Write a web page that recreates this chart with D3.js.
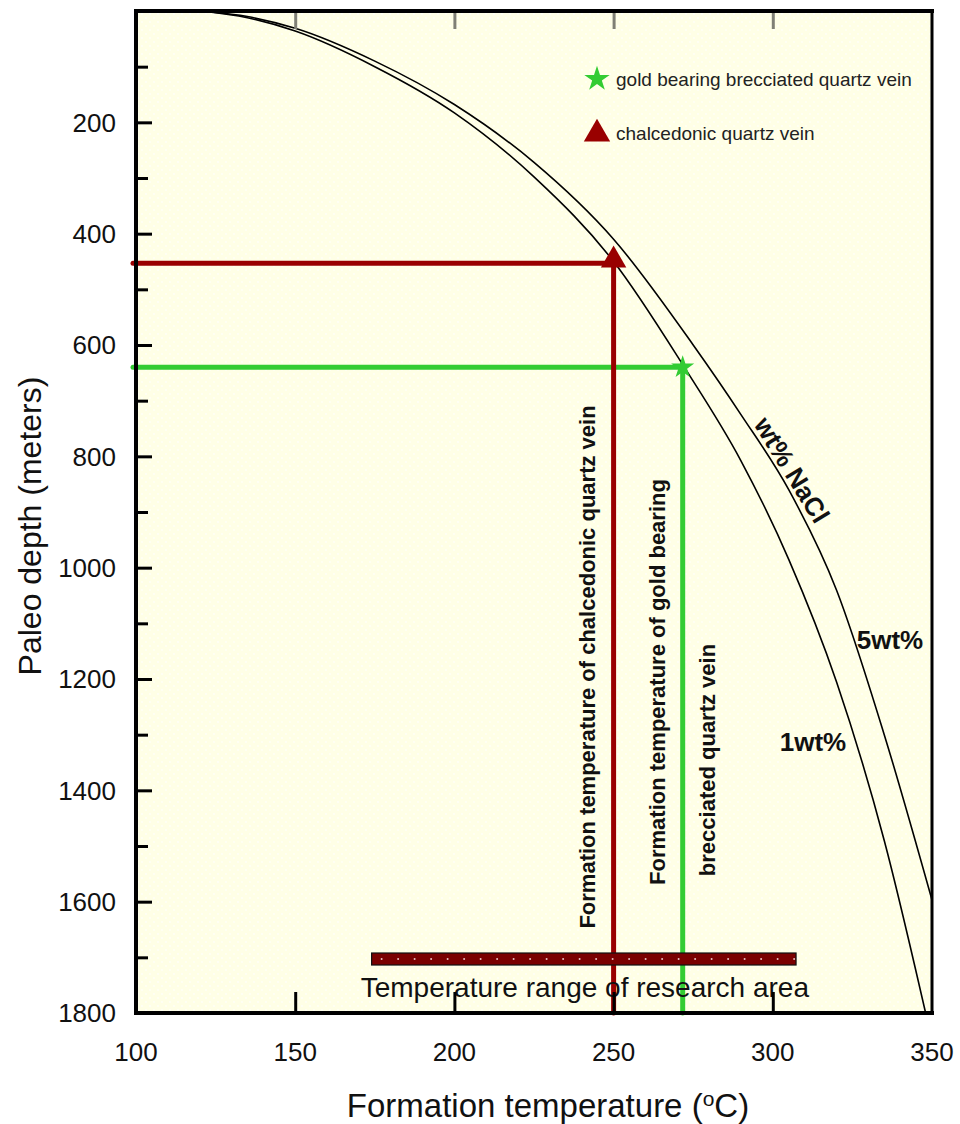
<!DOCTYPE html>
<html>
<head>
<meta charset="utf-8">
<script src="https://cdn.jsdelivr.net/npm/d3@7"></script>
<style>
  html, body { margin: 0; padding: 0; background: #ffffff; }
  svg { display: block; font-family: "Liberation Sans", Arial, sans-serif; }
</style>
</head>
<body>
<div id="chart"></div>
<script>
// ---------- data ----------
const xTicks = [100, 150, 200, 250, 300, 350];
const yTicks = [200, 400, 600, 800, 1000, 1200, 1400, 1600, 1800];
const yMinorTicks = [100, 300, 500, 700, 900, 1100, 1300, 1500, 1700];
const topTicks = [150, 200, 250, 300];
const bottomTicks = [100, 150, 200, 250, 300];

// boiling point-depth curves [temperature °C, depth m]
const curve1wt = [[120.5, 0], [135, 12], [150, 36], [175, 100], [200, 183], [225, 298],
  [250, 450], [272, 638], [290, 808], [305, 985], [320, 1205], [335, 1490], [348, 1800]];
const curve5wt = [[120.5, 0], [135, 10], [150, 31], [175, 90], [200, 168], [225, 272],
  [250, 410], [275, 600], [290, 725], [305, 860], [320, 1040], [335, 1300], [350, 1597]];

const sampleNames = ["gold bearing brecciated quartz vein", "chalcedonic quartz vein"];
const sampleTemps = [271.7, 250];
const sampleDepths = [640, 453];
const sampleColors = ["#33cc33", "#990000"];

const rangeTemps = [174, 307.3];
const rangeDepth = 1703;

// ---------- layout ----------
const W = 960, H = 1124;
const m = { left: 136, right: 28, top: 11, bottom: 111 };
const iw = W - m.left - m.right, ih = H - m.top - m.bottom;

const x = d3.scaleLinear().domain([100, 350]).range([m.left, m.left + iw]);
const y = d3.scaleLinear().domain([0, 1800]).range([m.top, m.top + ih]);

const svg = d3.select("#chart").append("svg").attr("width", W).attr("height", H);

// background with faint dot pattern
const defs = svg.append("defs");
const pat = defs.append("pattern").attr("id", "dots").attr("width", 8).attr("height", 8)
  .attr("patternUnits", "userSpaceOnUse");
pat.append("rect").attr("width", 8).attr("height", 8).attr("fill", "#ffffe6");
pat.append("circle").attr("cx", 2).attr("cy", 2).attr("r", 0.9).attr("fill", "#ffffff").attr("opacity", 0.8);
pat.append("circle").attr("cx", 6).attr("cy", 6).attr("r", 0.9).attr("fill", "#ffffff").attr("opacity", 0.8);
defs.append("clipPath").attr("id", "clip").append("rect")
  .attr("x", m.left).attr("y", m.top).attr("width", iw).attr("height", ih);

svg.append("rect").attr("x", m.left).attr("y", m.top).attr("width", iw).attr("height", ih)
  .attr("fill", "url(#dots)");

// ---------- curves ----------
const line = d3.line().x(d => x(d[0])).y(d => y(d[1])).curve(d3.curveMonotoneX);
const plot = svg.append("g").attr("clip-path", "url(#clip)");
plot.append("path").datum(curve1wt).attr("d", line).attr("fill", "none")
  .attr("stroke", "#000").attr("stroke-width", 1.6);
plot.append("path").datum(curve5wt).attr("d", line).attr("fill", "none")
  .attr("stroke", "#000").attr("stroke-width", 1.6);

// ---------- sample lines ----------
sampleTemps.forEach((t, i) => {
  const c = sampleColors[i];
  svg.append("line").attr("x1", x(100) - 3).attr("x2", x(t)).attr("y1", y(sampleDepths[i])).attr("y2", y(sampleDepths[i]))
    .attr("stroke", c).attr("stroke-width", 5).attr("stroke-linecap", "round");
  svg.append("line").attr("x1", x(t)).attr("x2", x(t)).attr("y1", y(sampleDepths[i])).attr("y2", y(1800))
    .attr("stroke", c).attr("stroke-width", 5).attr("stroke-linecap", "round");
});

// ---------- temperature range bar ----------
const barG = svg.append("g");
const bx0 = x(rangeTemps[0]), bx1 = x(rangeTemps[1]), by = y(rangeDepth);
barG.append("rect").attr("x", bx0).attr("y", by - 6).attr("width", bx1 - bx0).attr("height", 12)
  .attr("fill", "#7a0000").attr("stroke", "#111").attr("stroke-width", 1.2);
const nDots = Math.floor((bx1 - bx0 - 10) / 16.5) + 1;
barG.selectAll("circle").data(d3.range(nDots)).join("circle")
  .attr("cx", d => bx0 + 10 + d * 16.5).attr("cy", by).attr("r", 1)
  .attr("fill", "#e8c0c0");
svg.append("text").attr("x", (bx0 + bx1) / 2 + 1).attr("y", by + 38).attr("text-anchor", "middle")
  .attr("font-size", 28).attr("fill", "#111").text("Temperature range of research area");

// ---------- markers ----------
const symTri = d3.symbol(d3.symbolTriangle, 280);
const symStar = d3.symbol(d3.symbolStar, 165);
svg.append("path").attr("d", symStar()).attr("transform", `translate(${x(sampleTemps[0])},${y(sampleDepths[0])})`)
  .attr("fill", sampleColors[0]);
svg.append("path").attr("d", symTri()).attr("transform", `translate(${x(sampleTemps[1])},${y(sampleDepths[1]) - 3})`)
  .attr("fill", sampleColors[1]);

// ---------- legend ----------
const legend = svg.append("g").attr("transform", "translate(597,79)");
legend.append("path").attr("d", d3.symbol(d3.symbolStar, 200)()).attr("fill", sampleColors[0]);
legend.append("path").attr("d", d3.symbol(d3.symbolTriangle, 300)()).attr("transform", "translate(0,55)")
  .attr("fill", sampleColors[1]);
legend.selectAll("text").data(sampleNames).join("text")
  .attr("x", 19).attr("y", (d, i) => i * 54).attr("dy", "0.35em")
  .attr("font-size", 19).attr("fill", "#222").text(d => d);

// ---------- annotations ----------
function vtext(txt, cx, cy, size) {
  svg.append("text").attr("transform", `translate(${cx},${cy}) rotate(-90)`)
    .attr("text-anchor", "middle").attr("dy", "0.35em")
    .attr("font-size", size).attr("font-weight", "bold").attr("fill", "#111").text(txt);
}
vtext("Formation temperature of chalcedonic quartz vein", 587, 667, 22);
vtext("Formation temperature of gold bearing", 657, 682, 22);
vtext("brecciated quartz vein", 707, 760, 22);

svg.append("text").attr("transform", "translate(792,470) rotate(58.5)")
  .attr("text-anchor", "middle").attr("dy", "0.35em")
  .attr("font-size", 26).attr("font-weight", "bold").attr("fill", "#111").text("wt% NaCl");
svg.append("text").attr("x", 890).attr("y", 640).attr("dy", "0.35em").attr("text-anchor", "middle")
  .attr("font-size", 26).attr("font-weight", "bold").attr("fill", "#111").text("5wt%");
svg.append("text").attr("x", 813).attr("y", 742).attr("dy", "0.35em").attr("text-anchor", "middle")
  .attr("font-size", 26).attr("font-weight", "bold").attr("fill", "#111").text("1wt%");

// ---------- axes ----------
// left axis: ticks pointing inward
const yAxis = d3.axisRight(y).tickValues(yTicks).tickSize(16).tickFormat("");
svg.append("g").attr("transform", `translate(${m.left},0)`).call(yAxis)
  .call(g => g.select(".domain").remove())
  .call(g => g.selectAll("line").attr("stroke", "#000").attr("stroke-width", 3));
const yMinor = d3.axisRight(y).tickValues(yMinorTicks).tickSize(12).tickFormat("");
svg.append("g").attr("transform", `translate(${m.left},0)`).call(yMinor)
  .call(g => g.select(".domain").remove())
  .call(g => g.selectAll("line").attr("stroke", "#000").attr("stroke-width", 3));
// left labels
svg.append("g").selectAll("text").data(yTicks).join("text")
  .attr("x", 116).attr("y", d => y(d)).attr("dy", "0.36em").attr("text-anchor", "end")
  .attr("font-size", 26).attr("fill", "#111").text(d => d);

// bottom axis: ticks pointing up
const xAxis = d3.axisTop(x).tickValues(bottomTicks).tickSize(21).tickFormat("");
svg.append("g").attr("transform", `translate(0,${m.top + ih})`).call(xAxis)
  .call(g => g.select(".domain").remove())
  .call(g => g.selectAll("line").attr("stroke", "#000").attr("stroke-width", 3));
svg.append("g").selectAll("text").data(xTicks).join("text")
  .attr("x", d => x(d)).attr("y", 1052).attr("dy", "0.36em").attr("text-anchor", "middle")
  .attr("font-size", 26).attr("fill", "#111").text(d => d);

// top axis: gray ticks pointing down
const xTop = d3.axisBottom(x).tickValues(topTicks).tickSize(18).tickFormat("");
svg.append("g").attr("transform", `translate(0,${m.top})`).call(xTop)
  .call(g => g.select(".domain").remove())
  .call(g => g.selectAll("line").attr("stroke", "#808075").attr("stroke-width", 3));

// frame
svg.append("line").attr("x1", m.left - 2).attr("x2", m.left + iw + 2).attr("y1", m.top).attr("y2", m.top)
  .attr("stroke", "#000").attr("stroke-width", 4);
svg.append("line").attr("x1", m.left - 2).attr("x2", m.left + iw + 2).attr("y1", m.top + ih).attr("y2", m.top + ih)
  .attr("stroke", "#000").attr("stroke-width", 4);
svg.append("line").attr("x1", m.left).attr("x2", m.left).attr("y1", m.top).attr("y2", m.top + ih)
  .attr("stroke", "#000").attr("stroke-width", 4);
svg.append("line").attr("x1", m.left + iw).attr("x2", m.left + iw).attr("y1", m.top).attr("y2", m.top + ih)
  .attr("stroke", "#000").attr("stroke-width", 3);

// axis titles
svg.append("text").attr("transform", `translate(30,${(m.top + m.top + ih) / 2 + 14}) rotate(-90)`)
  .attr("text-anchor", "middle").attr("dy", "0.35em").attr("font-size", 32).attr("fill", "#111")
  .text("Paleo depth (meters)");
const xt = svg.append("text").attr("x", 548).attr("y", 1105).attr("dy", "0.35em").attr("text-anchor", "middle")
  .attr("font-size", 33).attr("fill", "#111");
xt.append("tspan").text("Formation temperature (");
xt.append("tspan").attr("font-size", 21).attr("dy", -11).text("o");
xt.append("tspan").attr("dy", 11).text("C)");
</script>
</body>
</html>
